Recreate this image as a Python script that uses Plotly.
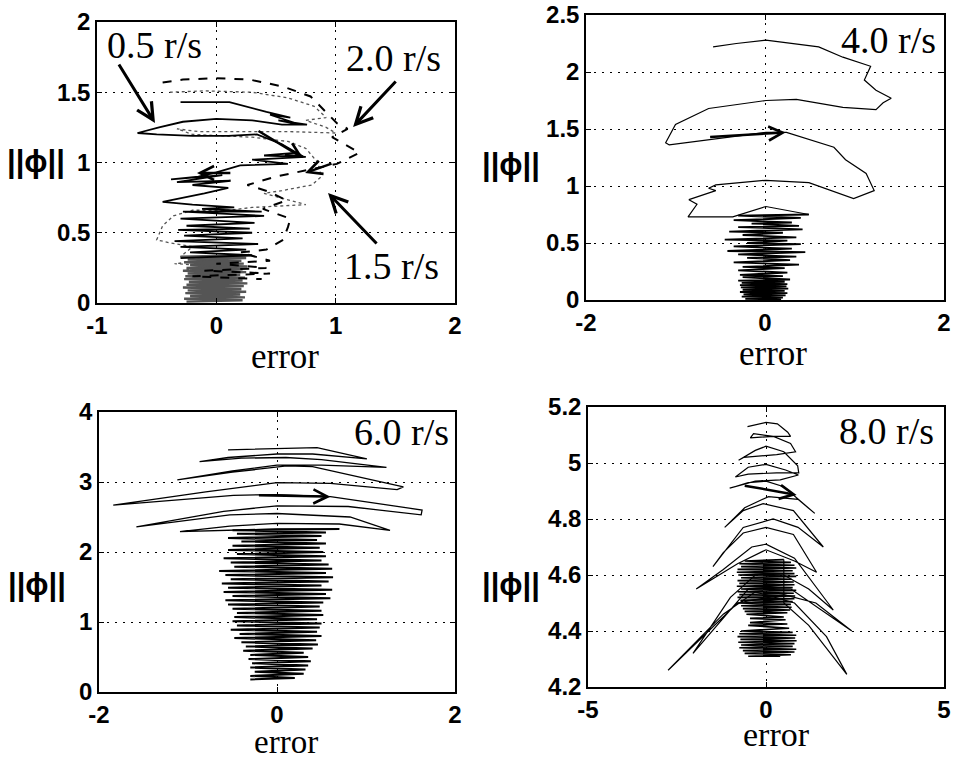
import plotly.graph_objects as go

# ---------------- data ----------------
# Panel 1 : 0.5 r/s (solid), 1.5 r/s (thin dotted), 2.0 r/s (dashed)
p1_solid = [(-0.30, 1.43), (0.11, 1.43), (0.42, 1.36), (0.62, 1.32), (0.45, 1.34), (0.70, 1.27),
            (0.52, 1.30), (0.76, 1.27), (0.55, 1.27), (0.30, 1.30), (0.00, 1.31), (-0.28, 1.29),
            (-0.48, 1.25), (-0.66, 1.21), (-0.50, 1.20), (-0.20, 1.19), (0.10, 1.19), (0.34, 1.20),
            (0.55, 1.13), (0.73, 1.04), (0.68, 1.07), (0.40, 1.05), (0.75, 1.04), (0.30, 1.02),
            (0.60, 0.99), (0.20, 0.98), (0.00, 0.93), (-0.15, 0.90), (-0.38, 0.88), (0.05, 0.91),
            (-0.33, 0.86), (0.12, 0.87), (-0.20, 0.84), (0.10, 0.82), (-0.10, 0.78), (-0.45, 0.72),
            (-0.20, 0.70), (0.15, 0.68), (-0.12, 0.67), (0.38, 0.65), (-0.28, 0.65), (0.40, 0.62),
            (-0.30, 0.60), (0.32, 0.57), (-0.25, 0.55), (0.28, 0.53), (-0.32, 0.52), (0.30, 0.50),
            (-0.27, 0.48), (0.22, 0.46), (-0.35, 0.44), (0.35, 0.42), (-0.30, 0.40), (0.25, 0.38),
            (-0.22, 0.36), (0.30, 0.34), (-0.30, 0.32)]
p1_dotted = [(-0.39, 1.50), (-0.10, 1.51), (0.30, 1.50), (0.60, 1.46), (0.82, 1.40), (0.92, 1.32),
             (0.75, 1.30), (0.92, 1.25), (1.00, 1.21), (0.60, 1.22), (0.20, 1.22), (-0.15, 1.22),
             (-0.33, 1.24), (-0.20, 1.20), (0.30, 1.18), (0.60, 1.15), (0.75, 1.10), (0.85, 1.00),
             (0.88, 0.90), (0.80, 0.84), (0.55, 0.80), (0.40, 0.78), (0.75, 0.70), (0.30, 0.68),
             (0.10, 0.66), (-0.20, 0.66), (-0.36, 0.62), (-0.45, 0.55), (-0.50, 0.45), (-0.40, 0.43),
             (-0.20, 0.40), (-0.30, 0.33), (0.00, 0.31), (-0.35, 0.28), (0.05, 0.26), (-0.25, 0.24),
             (0.20, 0.22)]
p1_dashed = [(-0.45, 1.57), (-0.28, 1.59), (0.00, 1.60), (0.28, 1.59), (0.56, 1.54), (0.79, 1.47),
             (1.01, 1.28), (1.10, 1.24), (0.97, 1.18), (1.20, 1.07), (1.01, 0.99), (0.79, 0.95),
             (0.50, 0.90), (0.26, 0.84), (0.45, 0.79), (0.59, 0.73), (0.39, 0.67), (0.62, 0.60),
             (0.60, 0.54), (0.56, 0.45), (0.42, 0.38), (0.20, 0.36), (0.45, 0.30), (0.00, 0.28),
             (0.42, 0.25), (-0.10, 0.23), (0.45, 0.21), (-0.20, 0.19), (0.38, 0.17)]
p1_core = [(-0.25, 0.01), (0.22, 0.02), (-0.27, 0.03), (0.24, 0.04), (-0.22, 0.05), (0.20, 0.06),
           (-0.26, 0.07), (0.25, 0.08), (-0.24, 0.09), (0.21, 0.10), (-0.28, 0.11), (0.23, 0.12),
           (-0.25, 0.13), (0.26, 0.14), (-0.23, 0.15), (0.22, 0.16), (-0.27, 0.17), (0.24, 0.18),
           (-0.26, 0.19), (0.20, 0.20), (-0.24, 0.21), (0.25, 0.22), (-0.28, 0.23), (0.22, 0.24),
           (-0.25, 0.25), (0.26, 0.26), (-0.22, 0.27), (0.23, 0.28), (-0.27, 0.29), (0.21, 0.30),
           (-0.24, 0.31), (0.25, 0.32), (-0.30, 0.33), (0.28, 0.34)]

# Panel 2 : 4.0 r/s
p2_loops = [(-0.58, 2.22), (-0.32, 2.25), (0.01, 2.28), (0.31, 2.25), (0.60, 2.22), (0.87, 2.13),
            (1.18, 2.05), (1.11, 1.93), (1.24, 1.84), (1.41, 1.77), (1.32, 1.73), (1.24, 1.67),
            (0.87, 1.69), (0.35, 1.76), (0.01, 1.75), (-0.63, 1.68), (-1.00, 1.54), (-1.11, 1.38),
            (-1.07, 1.36), (0.01, 1.47), (0.24, 1.47), (0.77, 1.34), (0.90, 1.23), (1.13, 1.11),
            (1.22, 0.96), (0.99, 0.89), (0.49, 1.03), (0.01, 1.05), (-0.55, 1.01), (-0.63, 0.98),
            (-0.55, 0.96), (-0.85, 0.88), (-0.76, 0.84), (-0.86, 0.73), (-0.36, 0.73), (0.01, 0.82),
            (0.49, 0.75)]
p2_core = [(0.49, 0.75), (-0.30, 0.74), (0.40, 0.72), (-0.35, 0.70), (0.30, 0.68), (-0.15, 0.67),
           (0.38, 0.65), (-0.30, 0.64), (0.42, 0.62), (-0.40, 0.60), (0.20, 0.59), (-0.25, 0.57),
           (0.35, 0.55), (-0.45, 0.53), (0.25, 0.52), (-0.20, 0.50), (0.40, 0.49), (-0.35, 0.47),
           (0.30, 0.45), (-0.42, 0.43), (0.45, 0.42), (-0.30, 0.40), (0.35, 0.38), (-0.20, 0.37),
           (0.28, 0.35), (-0.35, 0.33), (0.38, 0.31), (-0.25, 0.29), (0.22, 0.28), (-0.30, 0.26),
           (0.25, 0.24), (-0.28, 0.22), (0.20, 0.21), (-0.25, 0.20), (0.28, 0.18), (-0.30, 0.17),
           (0.22, 0.16), (-0.26, 0.15), (0.25, 0.14), (-0.28, 0.13), (0.24, 0.12), (-0.27, 0.11),
           (0.26, 0.10), (-0.25, 0.09), (0.22, 0.08), (-0.28, 0.07), (0.25, 0.06), (-0.24, 0.05),
           (0.23, 0.04), (-0.26, 0.03), (0.20, 0.02), (-0.22, 0.01), (0.18, 0.005)]

# Panel 3 : 6.0 r/s
p3_loops = [(-0.55, 3.46), (0.00, 3.48), (0.45, 3.49), (1.01, 3.33), (0.40, 3.40), (0.00, 3.40),
            (-0.55, 3.35), (-0.87, 3.29), (-0.40, 3.34), (0.10, 3.35), (0.50, 3.32), (1.23, 3.21),
            (0.50, 3.24), (0.00, 3.24), (-0.50, 3.16), (-1.12, 3.03), (-0.50, 3.14), (0.11, 3.23),
            (0.40, 3.22), (1.42, 2.93), (1.35, 2.89), (0.60, 2.98), (0.00, 2.99), (-0.80, 2.86),
            (-1.84, 2.67), (-0.49, 2.81), (0.00, 2.82), (0.60, 2.79), (1.63, 2.60), (1.62, 2.53),
            (0.80, 2.65), (0.00, 2.66), (-0.60, 2.58), (-1.58, 2.36), (-0.53, 2.53), (0.00, 2.55),
            (0.82, 2.50), (1.27, 2.31), (0.70, 2.40), (0.00, 2.41), (-0.53, 2.37), (-1.09, 2.29),
            (-0.30, 2.32), (0.00, 2.33), (0.70, 2.33)]
p3_core = [(0.70, 2.33), (-0.50, 2.31), (0.55, 2.28), (-0.45, 2.26), (0.50, 2.23), (-0.55, 2.20),
           (0.45, 2.17), (-0.40, 2.15), (0.55, 2.12), (-0.50, 2.09), (0.48, 2.06), (-0.55, 2.03),
           (0.52, 2.00), (-0.45, 1.97), (0.55, 1.94), (-0.60, 1.91), (0.50, 1.88), (-0.52, 1.85),
           (0.58, 1.82), (-0.48, 1.79), (0.62, 1.76), (-0.65, 1.73), (0.55, 1.70), (-0.58, 1.67),
           (0.63, 1.64), (-0.52, 1.61), (0.58, 1.58), (-0.62, 1.55), (0.50, 1.52), (-0.55, 1.49),
           (0.62, 1.46), (-0.60, 1.43), (0.55, 1.40), (-0.50, 1.37), (0.60, 1.34), (-0.58, 1.31),
           (0.52, 1.28), (-0.55, 1.25), (0.48, 1.22), (-0.50, 1.19), (0.50, 1.16), (-0.45, 1.13),
           (0.52, 1.10), (-0.48, 1.07), (0.45, 1.04), (-0.50, 1.01), (0.50, 0.98), (-0.45, 0.95),
           (0.48, 0.92), (-0.52, 0.89), (0.45, 0.86), (-0.42, 0.83), (0.50, 0.80), (-0.48, 0.77),
           (0.44, 0.74), (-0.40, 0.71), (0.46, 0.68), (-0.35, 0.65), (0.40, 0.62), (-0.38, 0.59),
           (0.30, 0.56), (-0.30, 0.53), (0.35, 0.50), (-0.32, 0.47), (0.38, 0.44), (-0.28, 0.41),
           (0.35, 0.38), (-0.30, 0.35), (0.32, 0.32), (-0.25, 0.29), (0.30, 0.26), (-0.30, 0.23),
           (0.20, 0.20), (-0.30, 0.18)]

# Panel 4 : 8.0 r/s
p4_loops = [(-0.52, 5.13), (0.00, 5.145), (0.32, 5.14), (0.61, 5.11), (0.69, 5.095), (0.20, 5.095),
            (-0.35, 5.105), (-0.44, 5.09), (0.21, 5.095), (0.69, 5.07), (0.83, 5.04), (0.30, 5.03),
            (-0.63, 5.02), (-0.77, 5.01), (-0.30, 5.045), (0.00, 5.06), (0.50, 5.04), (0.89, 4.99),
            (0.92, 4.965), (0.30, 4.965), (-0.50, 4.96), (-0.86, 4.95), (-0.50, 4.985), (0.00, 4.995),
            (0.55, 4.975), (0.91, 4.957), (0.40, 4.94), (-0.30, 4.935), (-1.02, 4.91), (-0.50, 4.93),
            (0.00, 4.935), (0.50, 4.915), (1.37, 4.82), (0.90, 4.87), (0.07, 4.88), (-0.60, 4.84),
            (-1.16, 4.77), (-0.64, 4.83), (-0.08, 4.855), (0.77, 4.83), (1.61, 4.70), (0.90, 4.77),
            (0.20, 4.80), (-0.64, 4.77), (-1.49, 4.63), (-1.20, 4.68), (-0.64, 4.75), (0.00, 4.77),
            (0.77, 4.745), (1.42, 4.61), (0.80, 4.65), (0.00, 4.69), (-0.80, 4.64), (-1.96, 4.55),
            (-1.20, 4.62), (-0.40, 4.70), (0.00, 4.71), (0.80, 4.66), (1.89, 4.475), (1.20, 4.55),
            (0.50, 4.60), (-0.30, 4.60), (-1.00, 4.52), (-2.05, 4.32), (-0.50, 4.55), (0.70, 4.55),
            (2.41, 4.40), (1.40, 4.50), (0.50, 4.53), (-0.80, 4.50), (-2.75, 4.26), (-1.20, 4.46),
            (-0.30, 4.54), (0.80, 4.50), (1.70, 4.38), (2.27, 4.245), (1.20, 4.42), (0.50, 4.50),
            (0.50, 4.655)]
p4_core = [(0.50, 4.655), (-0.60, 4.65), (0.70, 4.645), (-0.75, 4.64), (0.80, 4.635), (-0.70, 4.63),
           (0.85, 4.625), (-0.80, 4.62), (0.75, 4.615), (-0.82, 4.61), (0.80, 4.605), (-0.78, 4.60),
           (0.85, 4.595), (-0.70, 4.59), (0.72, 4.585), (-0.80, 4.58), (0.78, 4.575), (-0.75, 4.57),
           (0.80, 4.565), (-0.82, 4.56), (0.75, 4.555), (-0.70, 4.55), (0.85, 4.545), (-0.80, 4.54),
           (0.78, 4.535), (-0.75, 4.53), (0.82, 4.525), (-0.80, 4.52), (0.80, 4.515), (-0.72, 4.51),
           (0.75, 4.505), (-0.78, 4.50), (0.70, 4.495), (-0.70, 4.49), (0.72, 4.485), (-0.65, 4.48),
           (0.68, 4.475), (-0.60, 4.47), (0.60, 4.465), (-0.55, 4.46), (0.50, 4.45), (-0.45, 4.445),
           (0.55, 4.44), (-0.45, 4.43), (0.60, 4.425), (-0.50, 4.42), (0.65, 4.41), (-0.70, 4.40),
           (0.75, 4.395), (-0.75, 4.39), (0.85, 4.385), (-0.80, 4.38), (0.82, 4.375), (-0.72, 4.37),
           (0.86, 4.365), (-0.78, 4.36), (0.80, 4.355), (-0.70, 4.35), (0.75, 4.345), (-0.75, 4.34),
           (0.85, 4.335), (-0.65, 4.33), (0.80, 4.325), (-0.60, 4.32), (0.70, 4.315), (-0.50, 4.31),
           (0.40, 4.31)]

# Tick values / labels per panel
p1_xticks, p1_xlabels = [-1, 0, 1, 2], ["-1", "0", "1", "2"]
p1_yticks, p1_ylabels = [0, 0.5, 1, 1.5, 2], ["0", "0.5", "1", "1.5", "2"]
p2_xticks, p2_xlabels = [-2, 0, 2], ["-2", "0", "2"]
p2_yticks, p2_ylabels = [0, 0.5, 1, 1.5, 2, 2.5], ["0", "0.5", "1", "1.5", "2", "2.5"]
p3_xticks, p3_xlabels = [-2, 0, 2], ["-2", "0", "2"]
p3_yticks, p3_ylabels = [0, 1, 2, 3, 4], ["0", "1", "2", "3", "4"]
p4_xticks, p4_xlabels = [-5, 0, 5], ["-5", "0", "5"]
p4_yticks, p4_ylabels = [4.2, 4.4, 4.6, 4.8, 5, 5.2], ["4.2", "4.4", "4.6", "4.8", "5", "5.2"]

speed_labels = ["0.5 r/s", "2.0 r/s", "1.5 r/s", "4.0 r/s", "6.0 r/s", "8.0 r/s"]

# Arrows: (axis suffix, tail x, tail y, head x, head y, width)
arrows = [
    ("", -0.824, 1.708, -0.514, 1.281, 3),
    ("", 1.515, 1.587, 1.146, 1.253, 3),
    ("", 1.355, 0.413, 0.936, 0.783, 3),
    ("", 0.341, 1.231, 0.727, 1.032, 2.5),
    ("", 0.13, 0.925, -0.162, 0.925, 2.5),
    ("", 0.978, 0.996, 0.744, 0.925, 2.5),
    ("2", -0.63, 1.43, 0.23, 1.47, 2.5),
    ("3", -0.22, 2.81, 0.60, 2.79, 2.5),
    ("4", -0.64, 4.92, 0.86, 4.886, 2.5),
]

# ---------------- figure ----------------
fig = go.Figure()


def add_line(pts, ax, color="black", width=1.2, dash="solid"):
    fig.add_trace(go.Scatter(
        x=[p[0] for p in pts], y=[p[1] for p in pts], mode="lines",
        line=dict(color=color, width=width, dash=dash),
        xaxis="x" + ax, yaxis="y" + ax, showlegend=False, hoverinfo="skip"))


add_line(p1_core, "", color="#555555", width=2.4)
add_line(p1_dotted, "", color="#555555", width=1.3, dash="dot")
add_line(p1_solid, "", color="black", width=1.8)
add_line(p1_dashed, "", color="black", width=2.0, dash="dash")

add_line(p2_loops, "2", width=1.2)
add_line(p2_core, "2", width=1.8)

add_line(p3_loops, "3", width=1.3)
add_line(p3_core, "3", width=2.0)

add_line(p4_loops, "4", width=1.2)
add_line(p4_core, "4", width=1.6)

tickfont = dict(family="Liberation Sans", size=24, color="black", weight=700)


def axis_style(domain, rng, ticks, labels, anchor):
    return dict(domain=domain, range=rng, tickvals=ticks, ticktext=labels, anchor=anchor,
                showline=True, linecolor="black", linewidth=1.5, mirror="ticks",
                ticks="inside", ticklen=5, tickcolor="black", tickwidth=1,
                showgrid=True, gridcolor="black", griddash="2px,6px", gridwidth=1.2,
                zeroline=False, tickfont=tickfont, fixedrange=True, automargin=False)


W, H = 956, 761
boxes = {
    "": (97, 455, 22, 303, [-1, 2], [0, 2], p1_xticks, p1_xlabels, p1_yticks, p1_ylabels),
    "2": (586, 944, 15, 300, [-2, 2], [0, 2.5], p2_xticks, p2_xlabels, p2_yticks, p2_ylabels),
    "3": (99, 455, 412, 692, [-2, 2], [0, 4], p3_xticks, p3_xlabels, p3_yticks, p3_ylabels),
    "4": (588, 944, 407, 687, [-5, 5], [4.2, 5.2], p4_xticks, p4_xlabels, p4_yticks, p4_ylabels),
}
layout = {}
for suf, (x0, x1, y0, y1, xr, yr, xt, xl, yt, yl) in boxes.items():
    layout["xaxis" + suf] = axis_style([x0 / W, x1 / W], xr, xt, xl, "y" + suf)
    layout["yaxis" + suf] = axis_style([1 - y1 / H, 1 - y0 / H], yr, yt, yl, "x" + suf)

annotations = []
serif = "Liberation Serif"
# axis labels
for (cx, cy, fs) in [(285, 356, 35), (773, 354, 35), (286, 742, 33), (776, 734, 34)]:
    annotations.append(dict(text="error", x=cx / W, y=1 - cy / H, xref="paper", yref="paper",
                            showarrow=False, font=dict(family=serif, size=fs, color="black"),
                            xanchor="center", yanchor="middle"))
for (cx, cy) in [(36, 161), (511, 164), (37, 584), (511, 584)]:
    annotations.append(dict(text="||\u03d5||", x=cx / W, y=1 - cy / H, xref="paper", yref="paper",
                            showarrow=False,
                            font=dict(family="Liberation Sans", size=31, color="black", weight=700),
                            xanchor="center", yanchor="middle"))
# speed labels
for lab, (cx, cy) in zip(speed_labels, [(154, 45), (393, 58), (391, 266), (888, 40), (401, 432), (886, 431)]):
    annotations.append(dict(text=lab, x=cx / W, y=1 - cy / H, xref="paper", yref="paper",
                            showarrow=False, font=dict(family=serif, size=38, color="black"),
                            xanchor="center", yanchor="middle"))
# arrows
for suf, tx, ty, hx, hy, w in arrows:
    annotations.append(dict(text="", x=hx, y=hy, ax=tx, ay=ty, xref="x" + suf, yref="y" + suf,
                            axref="x" + suf, ayref="y" + suf, showarrow=True, arrowhead=5,
                            arrowsize=1.1, arrowwidth=w, arrowcolor="black", standoff=0))

fig.update_layout(**layout)
fig.update_layout(template="none", width=W, height=H, margin=dict(l=0, r=0, t=0, b=0, pad=0),
                  paper_bgcolor="white", plot_bgcolor="white",
                  annotations=annotations, showlegend=False)

fig.write_html("out.html", config={"displayModeBar": False})
